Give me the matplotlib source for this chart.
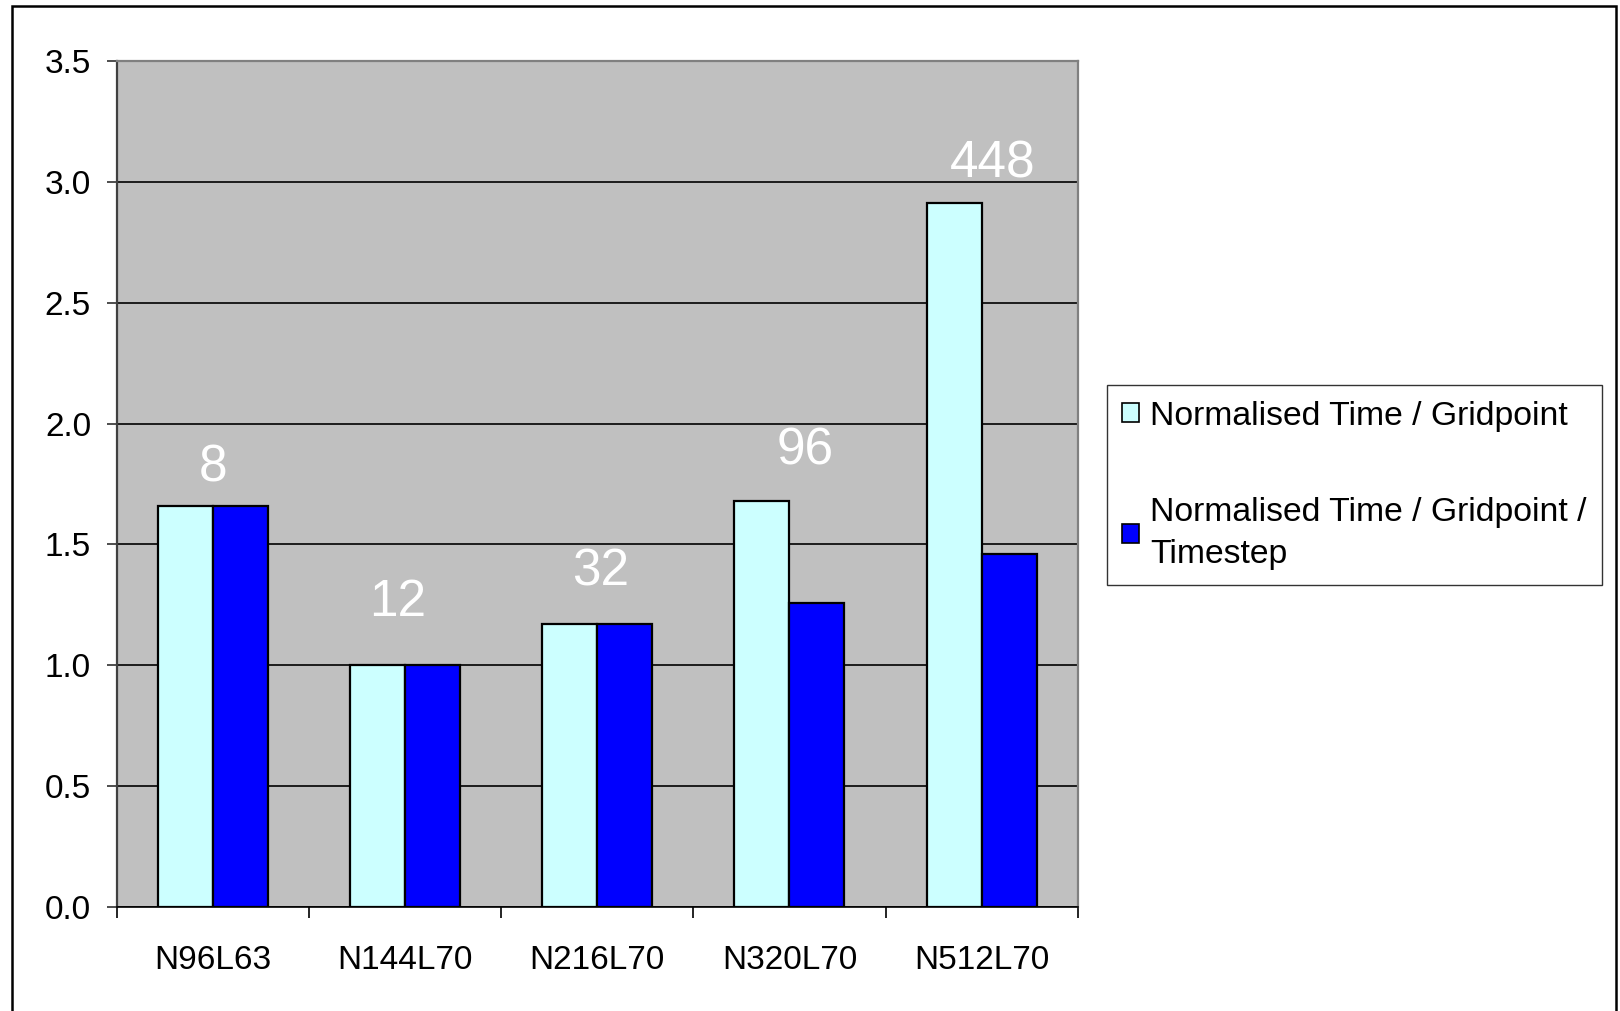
import matplotlib
matplotlib.use("Agg")
import matplotlib.pyplot as plt
from matplotlib.patches import Patch, Rectangle
import numpy as np

plt.rcParams["font.family"] = ["Liberation Sans", "DejaVu Sans"]

# Data
resolutions = ["N96L63", "N144L70", "N216L70", "N320L70", "N512L70"]
time_per_gridpoint = [1.66, 1.00, 1.17, 1.68, 2.91]
time_per_gridpoint_per_step = [1.66, 1.00, 1.17, 1.26, 1.46]
processor_counts = ["8", "12", "32", "96", "448"]
series_names = ["Normalised Time / Gridpoint",
                "Normalised Time / Gridpoint /\nTimestep"]
y_ticks = [0.0, 0.5, 1.0, 1.5, 2.0, 2.5, 3.0, 3.5]

# Placement of the processor-count annotations relative to each group
label_dx = [0.0, -0.04, 0.02, 0.08, 0.06]
label_dy = [0.155, 0.26, 0.215, 0.205, 0.165]

W, H = 1620, 1011
fig = plt.figure(figsize=(W / 100, H / 100), dpi=100)
fig.patch.set_facecolor("white")

ax = fig.add_axes([116.7 / W, 1 - 907.3 / H, (1077.7 - 116.7) / W, (907.3 - 60.7) / H])
ax.set_facecolor("#C0C0C0")

x = np.arange(len(resolutions))
bw = 1 / 3.5
light = "#CCFFFF"
dark = "#0000FF"
ax.bar(x - bw / 2, time_per_gridpoint, bw, color=light, edgecolor="black",
       linewidth=1.6, zorder=3)
ax.bar(x + bw / 2, time_per_gridpoint_per_step, bw, color=dark, edgecolor="black",
       linewidth=1.6, zorder=3)

for i, txt in enumerate(processor_counts):
    top = max(time_per_gridpoint[i], time_per_gridpoint_per_step[i])
    ax.text(x[i] + label_dx[i], top + label_dy[i], txt, color="white",
            fontsize=37, ha="center", va="center", zorder=4)

ax.set_xlim(-0.5, len(resolutions) - 0.5)
ax.set_ylim(0, 3.5)

# y axis
ax.set_yticks(y_ticks)
ax.set_yticklabels([f"{v:.1f}" for v in y_ticks], fontsize=24)
ax.tick_params(axis="y", length=7.5, width=1.3, color="#404040", pad=11)
ax.grid(axis="y", color="black", linewidth=1.2, zorder=1)
ax.set_axisbelow(True)

# x axis: tick marks on category boundaries, labels at centres
ax.set_xticks(np.arange(-0.5, len(resolutions), 1.0))
ax.set_xticklabels([])
ax.tick_params(axis="x", which="major", length=8, width=1.2, color="black")
ax.set_xticks(x, minor=True)
ax.set_xticklabels(resolutions, minor=True, fontsize=24)
ax.tick_params(axis="x", which="minor", length=0, pad=27)

for side in ("top", "right"):
    ax.spines[side].set_color("#808080")
    ax.spines[side].set_linewidth(1.6)
ax.spines["left"].set_color("#404040")
ax.spines["left"].set_linewidth(1.6)
ax.spines["bottom"].set_color("black")
ax.spines["bottom"].set_linewidth(1.2)

handles = [Patch(facecolor=light, edgecolor="black", linewidth=1.2),
           Patch(facecolor=dark, edgecolor="black", linewidth=1.2)]
leg = fig.legend(handles, series_names, loc="upper left",
                 bbox_to_anchor=(1106.6 / W, 1 - 385.4 / H),
                 fontsize=24.3, frameon=True, fancybox=False, shadow=False,
                 handlelength=0.5, handleheight=0.5, handletextpad=0.35,
                 labelspacing=1.95, borderpad=0.45, borderaxespad=0,
                 edgecolor="black")
leg.get_frame().set_linewidth(1.0)
for t in leg.get_texts():
    t.set_linespacing(1.45)

# Outer chart border
fig.patches.append(Rectangle((11.5 / W, -0.05), (1615.5 - 11.5) / W, 1.05 - 5.5 / H,
                             transform=fig.transFigure, fill=False,
                             edgecolor="black", linewidth=1.8))

fig.savefig("out.png", dpi=100)
